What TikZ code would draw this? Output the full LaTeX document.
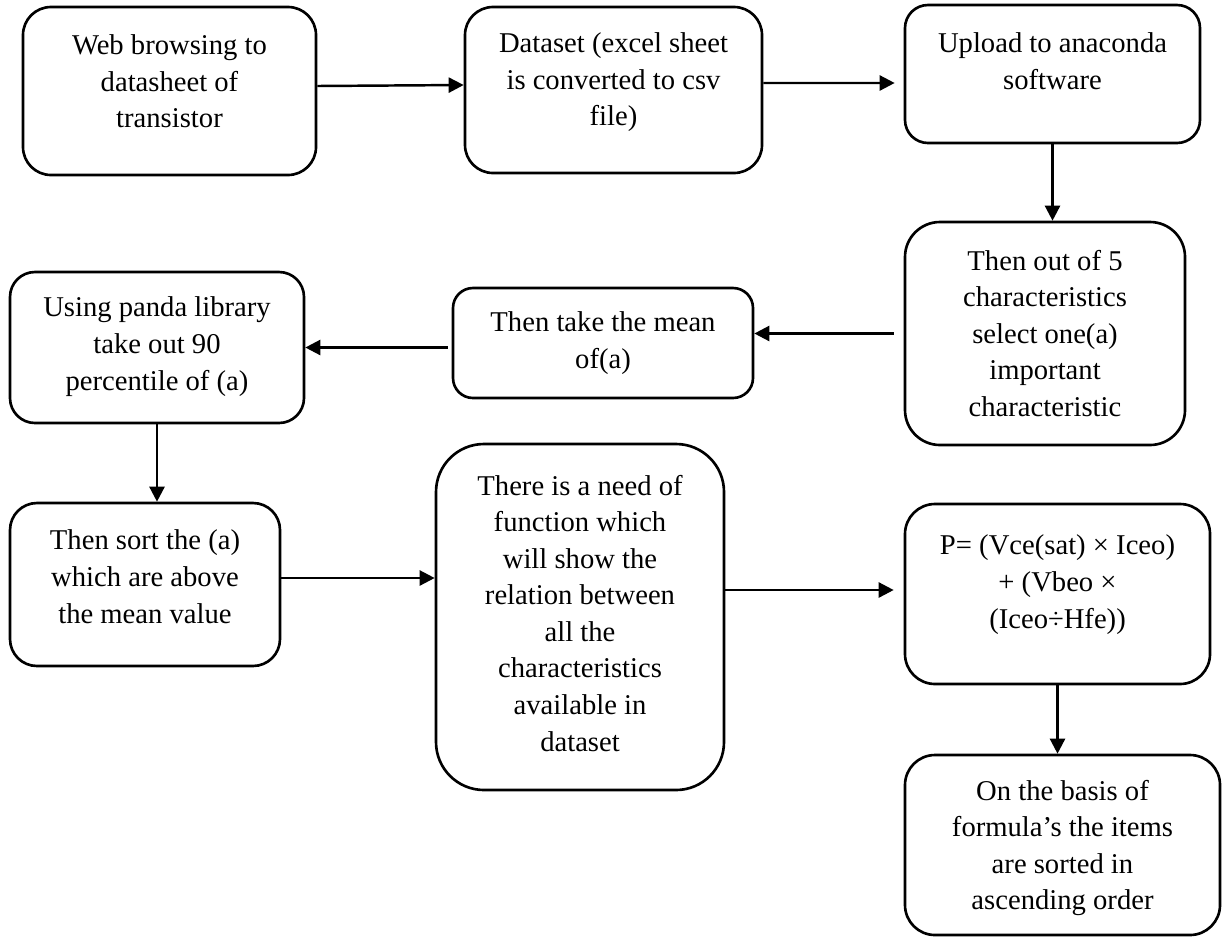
\documentclass[tikz,border=0pt]{standalone}
\usepackage{fontspec}
\setmainfont{Liberation Serif}
\usepackage{tikz}
\usetikzlibrary{positioning,arrows.meta,fit}

\tikzset{
  stepbox/.style={draw, line width=1.5pt, inner sep=0pt, rounded corners=#1},
  stepbox/.default=0.56cm,
  steptext/.style={inner sep=0pt, align=center, font=\fontsize{16.3pt}{20.8pt}\selectfont},
  flow/.style={-{Triangle[length=0.3cm,width=0.3cm]}, line width=1.4pt}
}

\begin{document}
\begin{tikzpicture}[x=0.02cm,y=-0.02cm]
    \useasboundingbox (0,0) rectangle (1222,937);
    % boxes (pixel corners)
    \node[stepbox, fit={(23,7) (316,175)}] (web) {};
    \node[stepbox, fit={(465,7) (762,173)}] (data) {};
    \node[stepbox=0.46cm, fit={(905,5) (1200,143)}] (upload) {};
    \node[stepbox=0.7cm, fit={(905,222) (1185,445)}] (select) {};
    \node[stepbox=0.4cm, fit={(453,288) (753,398)}] (mean) {};
    \node[stepbox=0.5cm, fit={(10,272) (304,423)}] (panda) {};
    \node[stepbox=0.54cm, fit={(10,503) (280,666)}] (sort) {};
    \node[stepbox=0.96cm, fit={(436,444) (724,790)}] (need) {};
    \node[stepbox=0.6cm, fit={(905,504) (1210,684)}] (formula) {};
    \node[stepbox=0.6cm, fit={(905,755) (1220,935)}] (basis) {};
    % texts
    \node[steptext, below=0.58cm of web.north] (webT) {Web browsing to\\datasheet of\\transistor};
    \node[steptext, below=0.54cm of data.north] (dataT) {Dataset (excel sheet\\is converted to csv\\file)};
    \node[steptext, below=0.58cm of upload.north] (uploadT) {Upload to anaconda\\software};
    \node[steptext, below=0.58cm of select.north] (selectT) {Then out of 5\\characteristics\\select one(a)\\important\\characteristic};
    \node[steptext, below=0.5cm of mean.north] (meanT) {Then take the mean\\of(a)};
    \node[steptext, below=0.52cm of panda.north] (pandaT) {Using panda library\\take out 90\\percentile of (a)};
    \node[steptext, below=0.56cm of sort.north] (sortT) {Then sort the (a)\\which are above\\the mean value};
    \node[steptext, below=0.64cm of need.north] (needT) {There is a need of\\function which\\will show the\\relation between\\all the\\characteristics\\available in\\dataset};
    \node[steptext, below=0.64cm of formula.north] (formulaT) {P= (Vce(sat) × Iceo)\\+ (Vbeo ×\\(Iceo÷Hfe))};
    \node[steptext, below=0.52cm of basis.north] (basisT) {On the basis of\\formula’s the items\\are sorted in\\ascending order};
    % arrows
    \coordinate (fIn) at ([yshift=0.08cm]formula.west);
    \draw[flow] ([yshift=0.1cm]web.east) -- ([yshift=0.1cm]data.west);
    \draw[flow, shorten >=0.18cm] ([yshift=0.14cm]data.east) -- ([yshift=-0.18cm]upload.west);
    \draw[flow] (upload.south) -- (upload.south |- select.north);
    \draw[flow, shorten <=0.2cm] (select.west) -- (select.west -| mean.east);
    \draw[flow, shorten <=0.08cm] (panda.east -| mean.west) -- (panda.east);
    \draw[flow] (panda.south) -- (panda.south |- sort.north);
    \draw[flow] ([yshift=0.13cm]sort.east) -- ([yshift=0.13cm]sort.east -| need.west);
    \draw[flow, shorten >=0.2cm] (need.east |- fIn) -- (fIn);
    \draw[flow] (formula.south) -- (formula.south |- basis.north);
\end{tikzpicture}
\end{document}
